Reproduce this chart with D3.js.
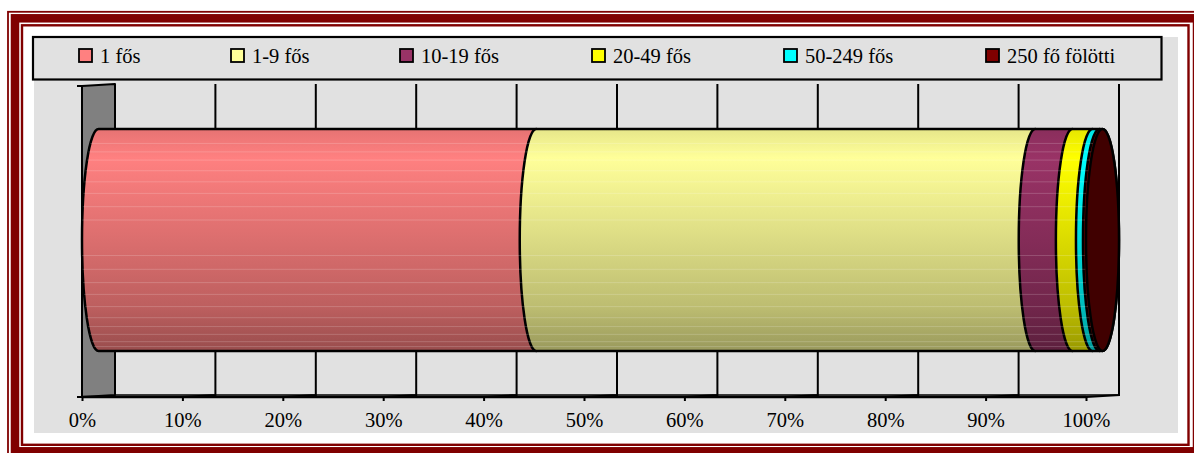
<!DOCTYPE html>
<html><head><meta charset="utf-8">
<script src="https://cdn.jsdelivr.net/npm/d3@7"></script>
<style>body{margin:0;background:#fff}svg{display:block}text{font-family:"Liberation Serif","Times New Roman",serif;fill:#000}</style>
</head><body><svg id="c" width="1194" height="453"></svg>
<script>
// ---- data ----
const categories = ["1 fős", "1-9 fős", "10-19 fős", "20-49 fős", "50-249 fős", "250 fő fölötti"];
const shares = [43.6, 49.7, 3.7, 2.0, 0.7, 0.3];
const colors = ["#ff8080", "#ffff99", "#993366", "#ffff00", "#00ffff", "#800000"];
const tickValues = [0, 10, 20, 30, 40, 50, 60, 70, 80, 90, 100];
const tickLabels = ["0%", "10%", "20%", "30%", "40%", "50%", "60%", "70%", "80%", "90%", "100%"];

// ---- layout ----
const legendX = [79, 231, 400, 592, 784, 986];
const DX = 33, DY = -2;
const floorY = 397, wallTop = 86;
const cylTop = 129, cylBot = 351;
const RX = DX / 2, RY = (cylBot - cylTop) / 2;
const bandFracs = [0.065,0.103,0.14,0.188,0.238,0.29,0.35,0.41,0.57,0.632,0.692,0.745,0.8,0.85,0.89,0.925,0.958,0.98];

const svg = d3.select("#c");
const defs = svg.append("defs");
const x = d3.scaleLinear().domain([0, 100]).range([82, 1086]);
const FONT = "Liberation Serif, Times New Roman, serif";

// frame
const red = "#800000";
svg.append("rect").attr("x", 8).attr("y", 11.8).attr("width", 1200).attr("height", 470)
  .attr("fill", "none").attr("stroke", red).attr("stroke-width", 1.8);
svg.append("rect").attr("x", 15).attr("y", 18.3).attr("width", 1182).attr("height", 433)
  .attr("fill", "none").attr("stroke", red).attr("stroke-width", 8.5);
svg.append("rect").attr("x", 22).attr("y", 25.3).attr("width", 1166.5).attr("height", 419.5)
  .attr("fill", "none").attr("stroke", red).attr("stroke-width", 2.4);

// chart area
svg.append("rect").attr("x", 34).attr("y", 37).attr("width", 1144).attr("height", 396).attr("fill", "#e1e1e1");

// left wall
svg.append("path")
  .attr("d", `M${x(0)},${wallTop} L${x(0)+DX},${wallTop+DY} L${x(0)+DX},${floorY+DY} L${x(0)},${floorY} Z`)
  .attr("fill", "#808080").attr("stroke", "#000").attr("stroke-width", 2).attr("stroke-linejoin", "round");
svg.append("line").attr("x1", x(0) - 5).attr("x2", x(0)).attr("y1", wallTop).attr("y2", wallTop).attr("stroke", "#000").attr("stroke-width", 2);
svg.append("line").attr("x1", x(0) - 5).attr("x2", x(0)).attr("y1", floorY).attr("y2", floorY).attr("stroke", "#000").attr("stroke-width", 2);

// gridlines (back) and floor segments
const gl = svg.append("g").attr("stroke", "#000").attr("stroke-width", 2).attr("fill", "none");
tickValues.filter(v => v > 0).forEach(v => {
  gl.append("path").attr("d", `M${x(v)+DX},${wallTop+DY} L${x(v)+DX},${floorY+DY} L${x(v)},${floorY}`);
});
gl.append("line").attr("x1", x(0)).attr("x2", x(100)).attr("y1", floorY).attr("y2", floorY).attr("stroke-width", 2.5);
gl.append("line").attr("x1", x(0)+DX).attr("x2", x(100)+DX).attr("y1", floorY+DY).attr("y2", floorY+DY).attr("stroke-width", 1.5);

// axis via d3
const axis = d3.axisBottom(x).tickValues(tickValues).tickFormat((d, i) => tickLabels[i]).tickSize(4).tickPadding(11);
const ag = svg.append("g").attr("transform", `translate(0,${floorY})`).call(axis)
  .attr("font-family", FONT);
ag.select(".domain").remove();
ag.selectAll(".tick line").attr("stroke", "#000").attr("stroke-width", 2);
ag.selectAll(".tick text").attr("font-size", 20.5).attr("font-family", FONT).attr("fill", "#000");

// gradients
function shade(c, k) { const r = d3.rgb(c); return d3.rgb(r.r * k, r.g * k, r.b * k).toString(); }
colors.forEach((c, i) => {
  const g = defs.append("linearGradient").attr("id", "g" + i).attr("gradientUnits", "userSpaceOnUse")
    .attr("x1", 0).attr("x2", 0).attr("y1", cylTop).attr("y2", cylBot);
  [[0, 0.9], [0.13, 1.0], [0.5, 0.86], [0.8, 0.74], [1, 0.6]].forEach(([o, k]) =>
    g.append("stop").attr("offset", o).attr("stop-color", shade(c, k)));
});

// cylinder segments
const ends = d3.cumsum(shares);
const starts = ends.map((e, i) => e - shares[i]);
const cx = v => x(v) + DX / 2;
const cyl = svg.append("g");
const clip = defs.append("clipPath").attr("id", "cylclip");
clip.append("path").attr("d",
  `M${cx(0)},${cylTop} A${RX} ${RY} 0 0 0 ${cx(0)},${cylBot} L${cx(100)},${cylBot} L${cx(100)},${cylTop} Z`);
shares.forEach((s, i) => {
  const a = cx(starts[i]), b = cx(ends[i]);
  cyl.append("path")
    .attr("d", `M${a},${cylTop} A${RX} ${RY} 0 0 0 ${a},${cylBot} L${b},${cylBot} A${RX} ${RY} 0 0 0 ${b},${cylTop} Z`)
    .attr("fill", `url(#g${i})`).attr("stroke", "#000").attr("stroke-width", 2.5).attr("stroke-linejoin", "round");
});
const bands = svg.append("g").attr("clip-path", "url(#cylclip)");
bandFracs.forEach(f => {
  const yy = cylTop + f * (cylBot - cylTop);
  bands.append("line").attr("x1", cx(0) - RX).attr("x2", cx(100)).attr("y1", yy).attr("y2", yy)
    .attr("stroke", "#fff").attr("stroke-opacity", 0.18).attr("stroke-width", 1);
});
svg.append("ellipse").attr("cx", cx(100)).attr("cy", (cylTop + cylBot) / 2).attr("rx", RX).attr("ry", RY)
  .attr("fill", shade(colors[5], 0.5)).attr("stroke", "#000").attr("stroke-width", 2.5);

// legend
svg.append("rect").attr("x", 33).attr("y", 37).attr("width", 1128.5).attr("height", 42.5)
  .attr("fill", "#e1e1e1").attr("stroke", "#000").attr("stroke-width", 2.2);
const lg = svg.append("g");
categories.forEach((c, i) => {
  lg.append("rect").attr("x", legendX[i]).attr("y", 49).attr("width", 13).attr("height", 13)
    .attr("fill", colors[i]).attr("stroke", "#000").attr("stroke-width", 1.8);
  lg.append("text").attr("x", legendX[i] + 21).attr("y", 63).attr("font-size", 20.5)
    .attr("font-family", FONT).text(c);
});
</script></body></html>
